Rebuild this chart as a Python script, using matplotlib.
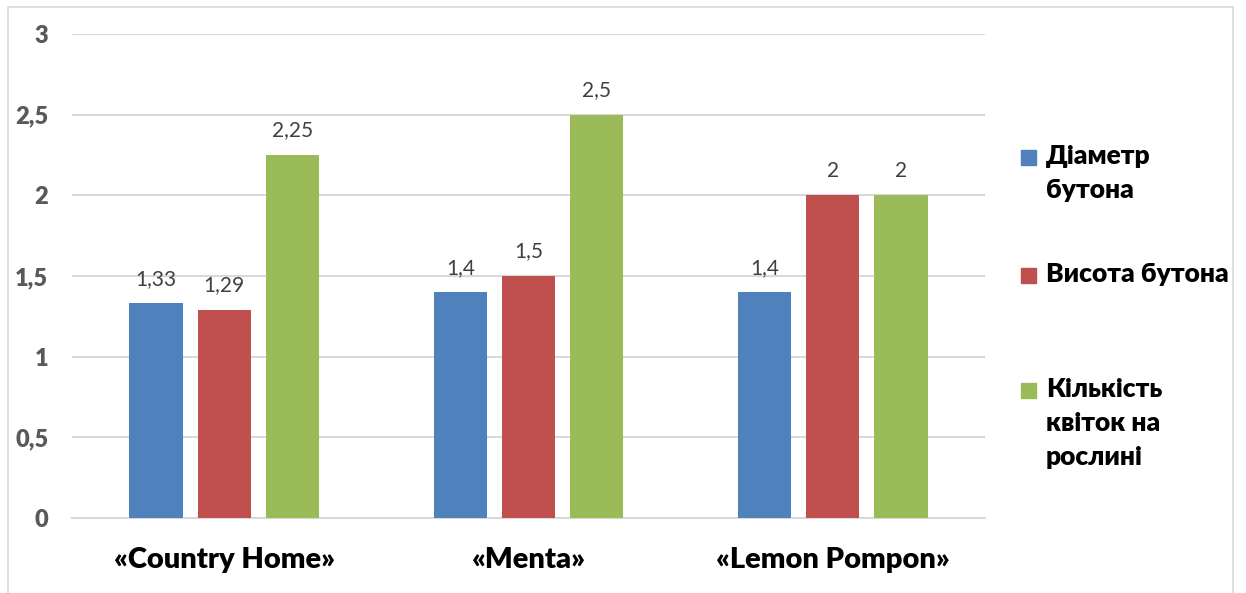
import matplotlib.pyplot as plt
import numpy as np
from matplotlib.patches import Rectangle

plt.rcParams['font.family'] = ['Lato', 'Open Sans', 'DejaVu Sans']

categories = ['«Country Home»', '«Menta»', '«Lemon Pompon»']
series_names = ['Діаметр\nбутона', 'Висота бутона', 'Кількість\nквіток на\nрослині']
diameter = [1.33, 1.4, 1.4]
height = [1.29, 1.5, 2]
flowers = [2.25, 2.5, 2]
colors = ['#4f81bd', '#c0504d', '#9bbb59']
yticks = [0, 0.5, 1, 1.5, 2, 2.5, 3]

W, H = 1246, 593
fig = plt.figure(figsize=(W / 100, H / 100), dpi=100)
ax = fig.add_axes([72 / W, 1 - 518 / H, (985 - 72) / W, (518 - 34) / H])

x = np.arange(len(categories))
step = 0.224
bw = 0.175
for i, vals in enumerate([diameter, height, flowers]):
    pos = x + (i - 1) * step
    ax.bar(pos, vals, width=bw, color=colors[i], zorder=3)
    for px, v in zip(pos, vals):
        lbl = ('%g' % v).replace('.', ',')
        ax.text(px, v + 0.09, lbl, ha='center', va='bottom', fontsize=15,
                color='#404040')

ax.set_xlim(-0.5, 2.5)
ax.set_ylim(0, 3)
ax.set_yticks(yticks)
ax.set_yticklabels([('%g' % t).replace('.', ',') for t in yticks])
ax.set_xticks(x)
ax.set_xticklabels(categories)
for t in ax.get_yticklabels():
    t.set_fontweight('heavy')
    t.set_fontsize(17)
    t.set_color('#595959')
for t in ax.get_xticklabels():
    t.set_fontweight('heavy')
    t.set_fontsize(21)
    t.set_color('black')
ax.tick_params(axis='y', length=0, pad=17)
ax.tick_params(axis='x', length=0, pad=21)
ax.grid(axis='y', color='#d9d9d9', lw=1.5, zorder=0)
for s in ['top', 'right', 'left']:
    ax.spines[s].set_visible(False)
ax.spines['bottom'].set_color('#d9d9d9')
ax.spines['bottom'].set_linewidth(1.5)

# legend
leg_y = [157, 275, 390]
for c, name, yy in zip(colors, series_names, leg_y):
    fig.patches.append(Rectangle((1021 / W, 1 - (yy + 8) / H), 15 / W, 15 / H,
                                 transform=fig.transFigure, color=c))
    fig.text(1046 / W, 1 - (yy - 13) / H, name, ha='left', va='top',
             fontsize=19, fontweight='heavy', color='black', linespacing=1.5)

# chart border
fig.patches.append(Rectangle((8 / W, -0.02), (1233 - 8) / W, 1 - 7 / H + 0.02,
                             transform=fig.transFigure, fill=False,
                             edgecolor='#d9d9d9', lw=1.2))

fig.savefig('out.png', dpi=100)
